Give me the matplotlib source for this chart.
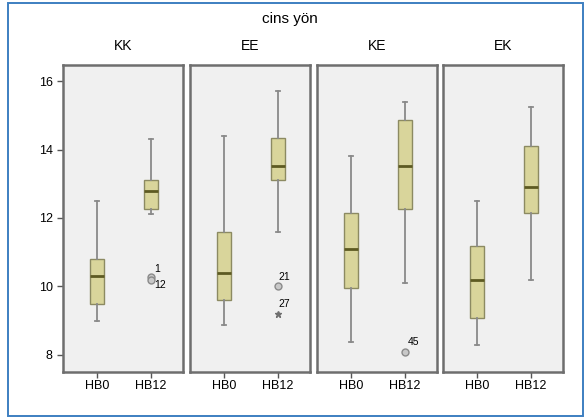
import matplotlib
matplotlib.use("Agg")
import matplotlib.pyplot as plt
from matplotlib.patches import Rectangle

groups = ["KK", "EE", "KE", "EK"]
conditions = ["HB0", "HB12"]
# (whisker_low, Q1, median, Q3, whisker_high) per group, per condition
stats = {
    "KK": [(9.0, 9.48, 10.3, 10.8, 12.5), (12.12, 12.25, 12.8, 13.1, 14.32)],
    "EE": [(8.88, 9.6, 10.4, 11.6, 14.4), (11.6, 13.1, 13.53, 14.33, 15.7)],
    "KE": [(8.39, 9.95, 11.1, 12.16, 13.8), (10.09, 12.25, 13.53, 14.86, 15.4)],
    "EK": [(8.29, 9.08, 10.19, 11.19, 12.49), (10.19, 12.16, 12.91, 14.11, 15.23)],
}
# outliers: (group, condition index, value, label, kind)
outliers = [
    ("KK", 1, 10.28, "1", "o"),
    ("KK", 1, 10.2, "12", "o"),
    ("EE", 1, 10.0, "21", "o"),
    ("EE", 1, 9.19, "27", "*"),
    ("KE", 1, 8.08, "45", "o"),
]
yticks = [8, 10, 12, 14, 16]

W, H = 586, 418
plt.rcParams["font.family"] = ["Liberation Sans", "DejaVu Sans"]
fig = plt.figure(figsize=(W / 100, H / 100), dpi=100)
fig.patch.set_facecolor("white")

# blue outer frame
fig.add_artist(Rectangle((8 / W, 1 - 416 / H), 575 / W, 413 / H, transform=fig.transFigure,
                         fill=False, edgecolor="#3d7fc1", linewidth=1.4))

fig.text(290 / W, 1 - 19 / H, "cins yön", ha="center", va="center", fontsize=11)

lefts = [63, 190, 317, 443]
pw = 120
top, bottom = 65, 372
box_fill = "#d9d59b"
box_edge = "#8c8a62"
wh_color = "#8a8a8a"

for gi, (g, lx) in enumerate(zip(groups, lefts)):
    ax = fig.add_axes([lx / W, 1 - bottom / H, pw / W, (bottom - top) / H])
    ax.set_facecolor("#f0f0f0")
    bxp = []
    for ci, c in enumerate(conditions):
        wl, q1, med, q3, wh = stats[g][ci]
        bxp.append(dict(whislo=wl, q1=q1, med=med, q3=q3, whishi=wh, fliers=[], label=c))
    ax.bxp(bxp, positions=[1, 2], widths=0.26, patch_artist=True, showfliers=False,
           boxprops=dict(facecolor=box_fill, edgecolor=box_edge, linewidth=1.0),
           medianprops=dict(color="#5d5a22", linewidth=2.0),
           whiskerprops=dict(color=wh_color, linewidth=1.3),
           capprops=dict(color=wh_color, linewidth=1.3),
           capwidths=0.08)
    for (og, ci, v, lab, kind) in outliers:
        if og != g:
            continue
        x = ci + 1
        if kind == "o":
            ax.plot(x, v, marker="o", ms=5, mfc="#c8c8c8", mec="#8a8a8a", mew=1.0, zorder=5)
        else:
            ax.plot(x, v, marker="*", ms=5, color="#707070", zorder=5)
    # outlier labels
    if g == "KK":
        ax.text(2.07, 10.52, "1", fontsize=7.5, ha="left", va="center")
        ax.text(2.07, 10.05, "12", fontsize=7.5, ha="left", va="center")
    if g == "EE":
        ax.text(2.02, 10.27, "21", fontsize=7.5, ha="left", va="center")
        ax.text(2.02, 9.48, "27", fontsize=7.5, ha="left", va="center")
    if g == "KE":
        ax.text(2.05, 8.37, "45", fontsize=7.5, ha="left", va="center")

    ax.set_xlim(0.37, 2.6)
    ax.set_ylim(7.5, 16.47)
    ax.set_xticks([1, 2])
    ax.set_xticklabels(conditions, fontsize=9)
    ax.set_yticks(yticks)
    if gi == 0:
        ax.set_yticklabels([str(t) for t in yticks], fontsize=9)
        ax.tick_params(axis="y", length=4, color="#555555", width=1.0)
    else:
        ax.tick_params(axis="y", left=False, labelleft=False)
    ax.tick_params(axis="x", length=4, color="#555555", width=1.0, pad=2)
    for s in ax.spines.values():
        s.set_color("#6e6e6e")
        s.set_linewidth(1.8)
    ax.set_title(g, fontsize=10, pad=11)

fig.savefig("out.png", dpi=100)
